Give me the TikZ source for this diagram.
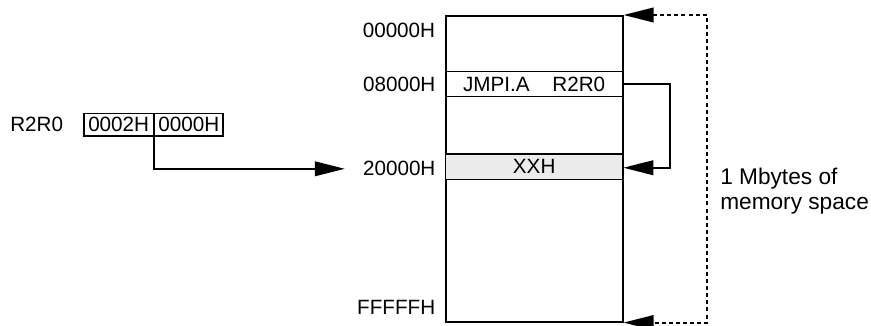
\documentclass[tikz,border=0pt]{standalone}
\usepackage{fontspec}
\setmainfont{Liberation Sans}
\usepackage{tikz}
\usetikzlibrary{arrows.meta,positioning}
\definecolor{rowgray}{HTML}{EBEBEB}

\begin{document}
\begin{tikzpicture}[x=0.75pt,y=-0.75pt,node distance=7pt,
  font=\fontsize{15.5pt}{18pt}\selectfont,
  mem/.style={draw,line width=1.4pt,minimum width=132.75pt,minimum height=229.3pt,inner sep=0pt},
  row/.style={draw,line width=1pt,minimum width=132.75pt,minimum height=19pt,inner sep=0pt},
  reg/.style={draw,line width=1pt,minimum height=17pt,inner sep=0pt},
  addr/.style={inner sep=0pt},
  a/.style={-{Triangle[length=22.5pt,width=11pt]},line width=1.3pt},
  span/.style={{Triangle[length=22.5pt,width=11pt]}-{Triangle[length=22.5pt,width=11pt]},line width=1.4pt,dash pattern=on 3pt off 2.3pt}]
  \useasboundingbox (0,0) rectangle (871,325);
  % memory map
  \node[mem] (mem) at (534.2,168.8) {};
  \node[row] (jmp) at (534.2,84) {JMPI.A\hspace{17pt}R2R0};
  \node[row,fill=rowgray] (xxh) at (534.2,166.8) {XXH};
  \node[addr,anchor=east] (a0) at ([xshift=-7pt,yshift=-11.25pt]mem.north west) {00000H};
  \node[addr,left=of jmp.west] (a8) {08000H};
  \node[addr,left=of xxh.west,yshift=-1.5pt] (a2) {20000H};
  \node[addr,anchor=east] (af) at ([xshift=-7pt,yshift=11.5pt]mem.south west) {FFFFFH};
  % register pair
  \node[reg,minimum width=52pt] (hi) at (118.7,124.7) {0002H};
  \node[reg,minimum width=51.3pt,right=0pt of hi] (lo) {0000H};
  \node[addr,left=15pt of hi] (r2r0) {R2R0};
  \node[align=left,inner sep=0pt,anchor=base west,font=\fontsize{17pt}{18.75pt}\selectfont] (note) at (720,209) {1 Mbytes of\\memory space};
  \draw[a] (hi.south east) |- ([xshift=-13.5pt]a2.west);
  \draw[a] (jmp.east) -- ++(34.7pt,0) |- ([yshift=-0.7pt]xxh.east);
  \draw[span] (mem.north east) -- ++(62.5pt,0) |- (mem.south east);
\end{tikzpicture}
\end{document}
